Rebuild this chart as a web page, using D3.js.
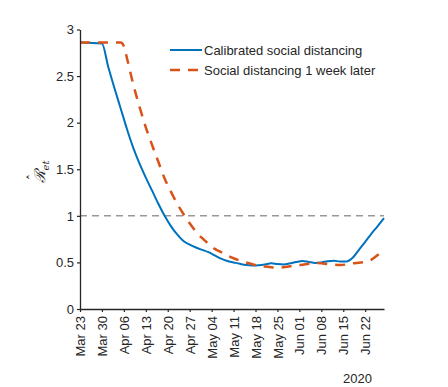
<!DOCTYPE html>
<html>
<head>
<meta charset="utf-8">
<script src="https://cdn.jsdelivr.net/npm/d3@7"></script>
<style>
  body { margin: 0; background: #fff; }
  svg text { font-family: "Liberation Sans", Arial, sans-serif; fill: #262626; }
</style>
</head>
<body>
<div id="chart"></div>
<script>
// Series data
const blueDates = ['2020-03-23', '2020-03-30', '2020-04-01', '2020-04-03', '2020-04-05', '2020-04-07',
    '2020-04-09', '2020-04-11', '2020-04-13', '2020-04-15', '2020-04-17', '2020-04-19', '2020-04-21',
    '2020-04-23', '2020-04-25', '2020-04-27', '2020-04-29', '2020-05-01', '2020-05-03', '2020-05-05',
    '2020-05-07', '2020-05-09', '2020-05-11', '2020-05-13', '2020-05-15', '2020-05-17', '2020-05-19',
    '2020-05-21', '2020-05-23', '2020-05-25', '2020-05-27', '2020-05-29', '2020-05-31', '2020-06-02',
    '2020-06-04', '2020-06-06', '2020-06-08', '2020-06-10', '2020-06-12', '2020-06-14', '2020-06-16',
    '2020-06-18', '2020-06-20', '2020-06-22', '2020-06-24', '2020-06-26', '2020-06-28'];
const blueValues = [2.86, 2.85, 2.6, 2.37, 2.15, 1.93,
    1.73, 1.56, 1.41, 1.27, 1.13, 1.0, 0.89,
    0.80, 0.73, 0.69, 0.66, 0.635, 0.61, 0.575,
    0.54, 0.515, 0.50, 0.485, 0.472, 0.468, 0.47,
    0.478, 0.49, 0.482, 0.478, 0.49, 0.505, 0.515,
    0.505, 0.495, 0.50, 0.512, 0.518, 0.51, 0.51,
    0.55, 0.635, 0.72, 0.81, 0.89, 0.975];

const orangeDates = ['2020-03-23', '2020-04-05', '2020-04-06', '2020-04-07', '2020-04-09', '2020-04-11',
    '2020-04-13', '2020-04-15', '2020-04-17', '2020-04-19', '2020-04-21', '2020-04-23', '2020-04-25',
    '2020-04-27', '2020-04-29', '2020-05-01', '2020-05-03', '2020-05-05', '2020-05-07', '2020-05-09',
    '2020-05-11', '2020-05-13', '2020-05-15', '2020-05-17', '2020-05-19', '2020-05-21', '2020-05-23',
    '2020-05-25', '2020-05-27', '2020-05-29', '2020-05-31', '2020-06-02', '2020-06-04', '2020-06-06',
    '2020-06-08', '2020-06-10', '2020-06-12', '2020-06-14', '2020-06-16', '2020-06-18', '2020-06-20',
    '2020-06-22', '2020-06-24', '2020-06-26', '2020-06-28'];
const orangeValues = [2.86, 2.86, 2.82, 2.69, 2.41, 2.17,
    1.95, 1.76, 1.58, 1.40, 1.26, 1.13, 1.02,
    0.92, 0.83, 0.76, 0.70, 0.645, 0.61, 0.575,
    0.545, 0.52, 0.50, 0.48, 0.465, 0.455, 0.448,
    0.443, 0.448, 0.458, 0.465, 0.475, 0.485, 0.495,
    0.492, 0.482, 0.475, 0.472, 0.478, 0.49, 0.497,
    0.505, 0.53, 0.58, 0.64];

const xTickDates = ['2020-03-23', '2020-03-30', '2020-04-06', '2020-04-13', '2020-04-20', '2020-04-27',
    '2020-05-04', '2020-05-11', '2020-05-18', '2020-05-25', '2020-06-01', '2020-06-08', '2020-06-15',
    '2020-06-22'];
const yTicks = [0, 0.5, 1, 1.5, 2, 2.5, 3];
const seriesNames = ['Calibrated social distancing', 'Social distancing 1 week later'];
const referenceLevel = 1;

const width = 448, height = 387;
const margin = { top: 29.5, right: 64, bottom: 78, left: 80 };

const parse = d3.timeParse('%Y-%m-%d');
const fmt = d3.timeFormat('%b %d');

const svg = d3.select('#chart').append('svg')
    .attr('width', width)
    .attr('height', height);

const x = d3.scaleTime()
    .domain([parse('2020-03-23'), parse('2020-06-28')])
    .range([margin.left, width - margin.right]);
const y = d3.scaleLinear()
    .domain([0, 3])
    .range([height - margin.bottom, margin.top]);

// reference line at R = 1
svg.append('line')
    .attr('x1', x.range()[0]).attr('x2', x.range()[1])
    .attr('y1', y(referenceLevel)).attr('y2', y(referenceLevel))
    .attr('stroke', '#999')
    .attr('stroke-width', 1.5)
    .attr('stroke-dasharray', '7,5');

const line = d3.line()
    .x(d => x(d.date))
    .y(d => y(d.value))
    .curve(d3.curveMonotoneX);

const blue = blueDates.map((d, i) => ({ date: parse(d), value: blueValues[i] }));
const orange = orangeDates.map((d, i) => ({ date: parse(d), value: orangeValues[i] }));

svg.append('path')
    .attr('d', line(blue))
    .attr('fill', 'none')
    .attr('stroke', '#0072BD')
    .attr('stroke-width', 2);

svg.append('path')
    .attr('d', line(orange))
    .attr('fill', 'none')
    .attr('stroke', '#D95319')
    .attr('stroke-width', 2.5)
    .attr('stroke-dasharray', '10,8');

// axes
const xAxis = svg.append('g')
    .attr('transform', `translate(0,${y(0)})`)
    .call(d3.axisBottom(x).tickValues(xTickDates.map(parse)).tickFormat(fmt).tickSize(3).tickSizeOuter(0));
xAxis.selectAll('text')
    .attr('transform', 'rotate(-90)')
    .attr('text-anchor', 'end')
    .attr('x', -7)
    .attr('y', 0)
    .attr('dy', '0.35em');

const yAxis = svg.append('g')
    .attr('transform', `translate(${x.range()[0]},0)`)
    .call(d3.axisLeft(y).tickValues(yTicks).tickFormat(d3.format('')).tickSize(3).tickSizeOuter(0));

[xAxis, yAxis].forEach(g => {
    g.select('.domain').attr('stroke', '#262626').attr('stroke-width', 1.3);
    g.selectAll('.tick line').attr('stroke', '#262626').attr('stroke-width', 1.2);
    g.selectAll('text')
        .style('font-family', '"Liberation Sans", Arial, sans-serif')
        .style('font-size', '13px')
        .attr('fill', '#262626');
});

svg.append('text')
    .attr('x', 372)
    .attr('y', 383)
    .attr('text-anchor', 'end')
    .style('font-size', '13px')
    .text('2020');

// y label: R-hat with subscript et
const ylabG = svg.append('g')
    .attr('transform', 'translate(45,172) rotate(-90)');
const ylab = ylabG.append('text')
    .attr('text-anchor', 'middle')
    .style('font-family', '"DejaVu Serif", serif')
    .style('font-size', '15px')
    .style('font-style', 'italic');
ylab.append('tspan').text('\u211B');
ylab.append('tspan')
    .attr('dy', 4)
    .style('font-size', '10px')
    .text('et');
ylabG.append('text')
    .attr('x', -5)
    .attr('y', -8)
    .attr('text-anchor', 'middle')
    .style('font-family', '"DejaVu Sans", sans-serif')
    .style('font-size', '12px')
    .text('\u02C6');

// legend
const legend = svg.append('g');
seriesNames.forEach((name, i) => {
    const ly = 50 + i * 20;
    legend.append('line')
        .attr('x1', 170).attr('x2', 202)
        .attr('y1', ly).attr('y2', ly)
        .attr('stroke', i === 0 ? '#0072BD' : '#D95319')
        .attr('stroke-width', i === 0 ? 2 : 2.5)
        .attr('stroke-dasharray', i === 0 ? null : '10,8');
    legend.append('text')
        .attr('x', 204)
        .attr('y', ly)
        .attr('dy', '0.35em')
        .style('font-size', '13px')
        .text(name);
});
</script>
</body>
</html>
